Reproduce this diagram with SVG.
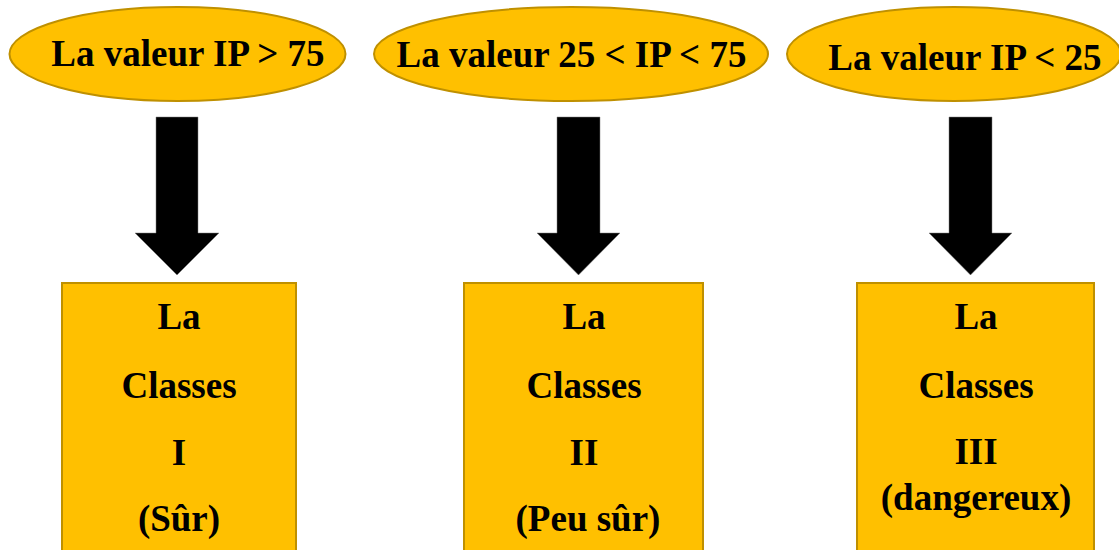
<svg xmlns="http://www.w3.org/2000/svg" width="1119" height="550" viewBox="0 0 1119 550">
<style>
.sh{fill:#FFC000;stroke:#BF9000;stroke-width:2}
.t{font-family:"Liberation Serif","Times New Roman",serif;font-weight:bold;font-size:37px;fill:#000;text-anchor:middle}
.ar{fill:#000;stroke:#7f7f7f;stroke-width:0.5}
</style>
<rect width="1119" height="550" fill="#fff"/>
<g id="connectors">
<polygon class="ar" points="156,117 198,117 198,233 219,233 177,275 135,233 156,233"/>
<polygon class="ar" points="557,117 600,117 600,233 620,233 578.5,275 537,233 557,233"/>
<polygon class="ar" points="949,117 992,117 992,233 1012,233 970.5,275 929,233 949,233"/>
</g>
<g id="cond1">
<ellipse class="sh" cx="177.5" cy="54" rx="168" ry="47"/>
<text class="t" x="188" y="66">La valeur IP &gt; 75</text>
</g>
<g id="cond2">
<ellipse class="sh" cx="571" cy="54" rx="197" ry="47"/>
<text class="t" x="571.5" y="67">La valeur 25 &lt; IP &lt; 75</text>
</g>
<g id="cond3">
<ellipse class="sh" cx="954" cy="54" rx="167" ry="47"/>
<text class="t" x="965" y="70">La valeur IP &lt; 25</text>
</g>
<g id="class1">
<rect class="sh" x="62" y="283" width="234" height="280"/>
<text class="t" x="179" y="329">La</text>
<text class="t" x="179" y="398">Classes</text>
<text class="t" x="179" y="465">I</text>
<text class="t" x="179" y="531">(Sûr)</text>
</g>
<g id="class2">
<rect class="sh" x="464" y="283" width="239" height="280"/>
<text class="t" x="584" y="329">La</text>
<text class="t" x="584" y="398">Classes</text>
<text class="t" x="584" y="465">II</text>
<text class="t" x="588" y="531">(Peu sûr)</text>
</g>
<g id="class3">
<rect class="sh" x="857" y="283" width="237" height="280"/>
<text class="t" x="976" y="329">La</text>
<text class="t" x="976" y="398">Classes</text>
<text class="t" x="976" y="464">III</text>
<text class="t" x="976" y="510">(dangereux)</text>
</g>
</svg>
